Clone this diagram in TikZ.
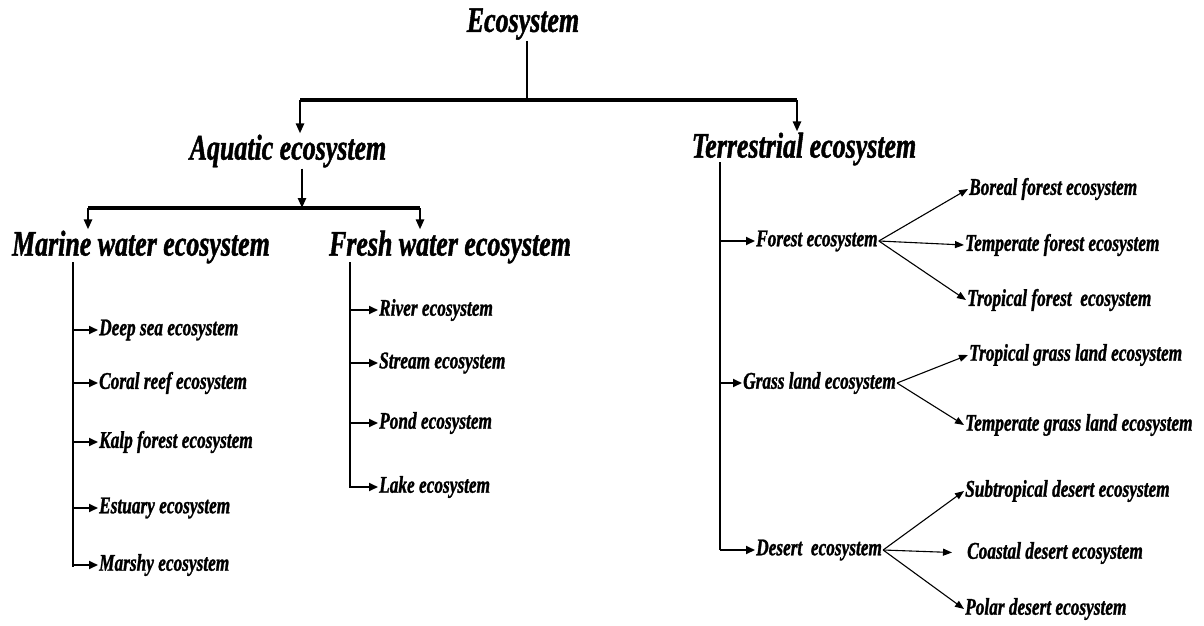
\documentclass[tikz,border=0pt]{standalone}
\usepackage{fontspec}
\setmainfont{Liberation Serif}[FakeStretch=0.72, FakeBold=1.2]
\usetikzlibrary{positioning, arrows.meta}

\begin{document}
\begin{tikzpicture}[x=1pt, y=-1pt,
    head/.style={font=\fontsize{36}{38}\selectfont\bfseries\itshape, inner sep=1pt},
    leaf/.style={font=\fontsize{24}{26}\selectfont\bfseries\itshape, inner sep=1pt, anchor=west},
    bar/.style={line width=4pt},
    trunk/.style={line width=2.4pt},
    stem/.style={line width=2.4pt, -{Triangle[length=10pt,width=8pt]}},
    twig/.style={line width=1.8pt, -{Triangle[length=9pt,width=8pt]}},
    thin/.style={line width=1.1pt, -{Triangle[length=9pt,width=7pt]}}]
    \useasboundingbox (0,0) rectangle (1204,626);

    % Heads
    \node[head] (eco) at (523,24) {Ecosystem};
    \node[head] (aqua) at (288,151) {Aquatic ecosystem};
    \node[head] (terr) at (804,149) {Terrestrial ecosystem};
    \node[head] (marine) at (141,247) {Marine water ecosystem};
    \node[head] (fresh) at (450,247) {Fresh water ecosystem};

    % First split
    \coordinate (jA) at (300,100);
    \coordinate (jT) at (797,100);
    \draw[trunk] (eco.south -| 527,0) -- (527,100);
    \draw[bar] (jA) -- (jT);
    \draw[stem] (jA) -- (jA |- aqua.north);
    \draw[stem] (jT) -- (jT |- terr.north);

    % Aquatic split
    \coordinate (jM) at (302,208);
    \coordinate (jL) at (88,208);
    \coordinate (jR) at (420,208);
    \draw[stem] (aqua.south -| jM) -- (jM);
    \draw[bar] (jL) -- (jR);
    \draw[stem] (jL) -- (jL |- marine.north);
    \draw[stem] (jR) -- (jR |- fresh.north);

    % Marine water
    \coordinate (mtop) at (73,262);
    \draw[trunk] (mtop) -- (73,567);
    \foreach \y/\n/\t in {330/deep/Deep sea ecosystem, 383/coral/Coral reef ecosystem,
        442/kalp/Kalp forest ecosystem, 508/estuary/Estuary ecosystem, 565/marshy/Marshy ecosystem} {
      \node[leaf] (\n) at (98,\y) {\t};
      \draw[twig] (mtop |- \n.west) -- (\n.west);
    }

    % Fresh water
    \coordinate (ftop) at (350,262);
    \draw[trunk] (ftop) -- (350,488);
    \foreach \y/\n/\t in {310/river/River ecosystem, 363/stream/Stream ecosystem,
        423/pond/Pond ecosystem, 487/lake/Lake ecosystem} {
      \node[leaf] (\n) at (378,\y) {\t};
      \draw[twig] (ftop |- \n.west) -- (\n.west);
    }

    % Terrestrial
    \coordinate (ttop) at (720,162);
    \draw[trunk] (ttop) -- (720,550);
    \node[leaf] (forest) at (755,241) {Forest ecosystem};
    \node[leaf] (grass) at (742,383) {Grass land ecosystem};
    \node[leaf] (desert) at (755,550) {Desert\ \ ecosystem};
    \foreach \n in {forest, grass, desert}
      \draw[twig] (ttop |- \n.west) -- (\n.west);

    % Forest kinds
    \node[leaf] (boreal) at (968,189) {Boreal forest ecosystem};
    \node[leaf] (tempf) at (964,245) {Temperate forest ecosystem};
    \node[leaf] (tropf) at (966,300) {Tropical forest\ \ ecosystem};
    \foreach \n in {boreal, tempf, tropf}
      \draw[thin] (forest.east) -- (\n.west);

    % Grass land kinds
    \node[leaf] (tropg) at (968,355) {Tropical grass land ecosystem};
    \node[leaf] (tempg) at (964,425) {Temperate grass land ecosystem};
    \foreach \n in {tropg, tempg}
      \draw[thin] (grass.east) -- (\n.west);

    % Desert kinds
    \node[leaf] (subd) at (964,491) {Subtropical desert ecosystem};
    \node[leaf] (coastd) at (966,553) {Coastal desert ecosystem};
    \node[leaf] (polard) at (964,609) {Polar desert ecosystem};
    \draw[thin] (desert.east) -- (subd.west);
    \draw[thin, shorten >=14pt] (desert.east) -- (coastd.west);
    \draw[thin] (desert.east) -- (polard.west);
  \end{tikzpicture}
\end{document}
